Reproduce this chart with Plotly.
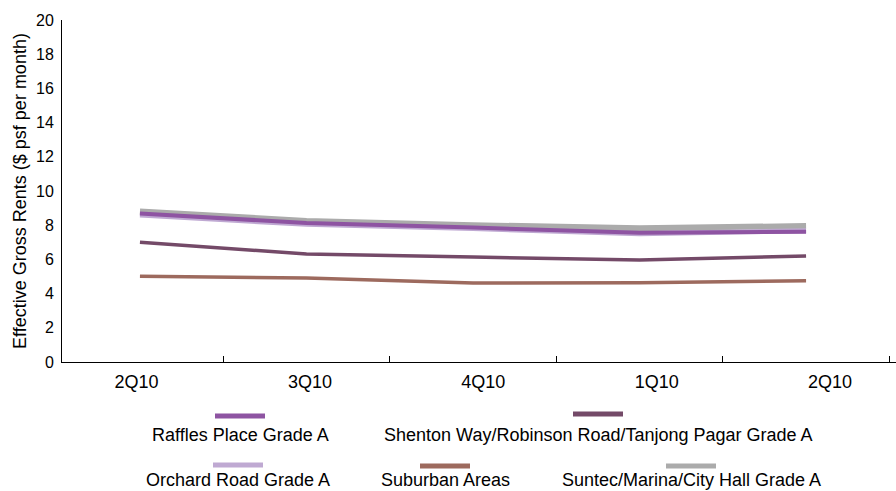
import plotly.graph_objects as go

quarters = ["2Q10", "3Q10", "4Q10", "1Q10", "2Q10"]

suntec = [8.8, 8.25, 8.0, 7.82, 7.95]
orchard = [8.6, 8.05, 7.8, 7.5, 7.68]
raffles = [8.68, 8.13, 7.86, 7.56, 7.62]
shenton = [7.0, 6.32, 6.14, 5.96, 6.2]
suburban = [5.01, 4.91, 4.62, 4.63, 4.75]

series = [
    ("Suntec/Marina/City Hall Grade A", suntec, "#ABABAB", 6),
    ("Orchard Road Grade A", orchard, "#BFA9D2", 5),
    ("Raffles Place Grade A", raffles, "#8E54A2", 4),
    ("Shenton Way/Robinson Road/Tanjong Pagar Grade A", shenton, "#744A68", 3.5),
    ("Suburban Areas", suburban, "#9D6A5E", 3.5),
]

xpos = list(range(len(quarters)))
fig = go.Figure()
for name, vals, color, width in series:
    fig.add_trace(go.Scatter(x=xpos, y=vals, mode="lines", name=name,
                             line=dict(color=color, width=width),
                             showlegend=False))

family = "Liberation Sans, Arial, sans-serif"
tick_font = dict(family=family, size=16, color="#000000")
text_font = dict(family=family, size=18, color="#000000")

# category labels sit slightly spread relative to the plotted points
label_pos = [i * 1.041 - 0.02 for i in xpos]

fig.update_layout(
    width=896, height=491,
    margin=dict(l=62, r=0, t=20, b=129),
    paper_bgcolor="white", plot_bgcolor="white",
    font=text_font,
    xaxis=dict(range=[-0.468, 4.54], showgrid=False, zeroline=False,
               showline=True, linecolor="#000000", linewidth=1,
               tickvals=[i + 0.5 for i in xpos], ticks="inside",
               ticklen=6, tickcolor="#000000", showticklabels=False),
    xaxis2=dict(range=[-0.468, 4.54], overlaying="x", side="bottom",
                showgrid=False, zeroline=False, showline=False,
                tickvals=label_pos, ticktext=quarters, ticks="",
                tickfont=text_font, anchor="y", ticklabelstandoff=7),
    yaxis=dict(range=[0, 20], dtick=2, showgrid=False, zeroline=False,
               showline=True, linecolor="#000000", linewidth=1,
               ticks="", tickfont=tick_font, ticklabelstandoff=4,
               title=dict(text="Effective Gross Rents ($ psf per month)",
                          font=text_font, standoff=4)),
)
# invisible trace to activate the label axis
fig.add_trace(go.Scatter(x=label_pos, y=[None] * len(label_pos), xaxis="x2",
                         mode="lines", showlegend=False, hoverinfo="skip"))

# legend laid out as two rows: swatch above each name
legend_items = [
    ("Raffles Place Grade A", "#8E54A2", 240, 416, 435),
    ("Shenton Way/Robinson Road/Tanjong Pagar Grade A", "#744A68", 598, 414, 435),
    ("Orchard Road Grade A", "#BFA9D2", 238, 465, 480),
    ("Suburban Areas", "#9D6A5E", 445, 466, 480),
    ("Suntec/Marina/City Hall Grade A", "#ABABAB", 691, 466, 480),
]
for text, color, cx, sy, ty in legend_items:
    fig.add_shape(type="line", xref="paper", yref="paper",
                  x0=(cx - 25 - 62) / 834, x1=(cx + 25 - 62) / 834,
                  y0=(362 - sy) / 342, y1=(362 - sy) / 342,
                  line=dict(color=color, width=5))
    fig.add_annotation(text=text, xref="paper", yref="paper",
                       x=(cx - 62) / 834, y=(362 - ty) / 342,
                       xanchor="center", yanchor="middle",
                       showarrow=False, font=text_font)

fig.write_html("out.html")
